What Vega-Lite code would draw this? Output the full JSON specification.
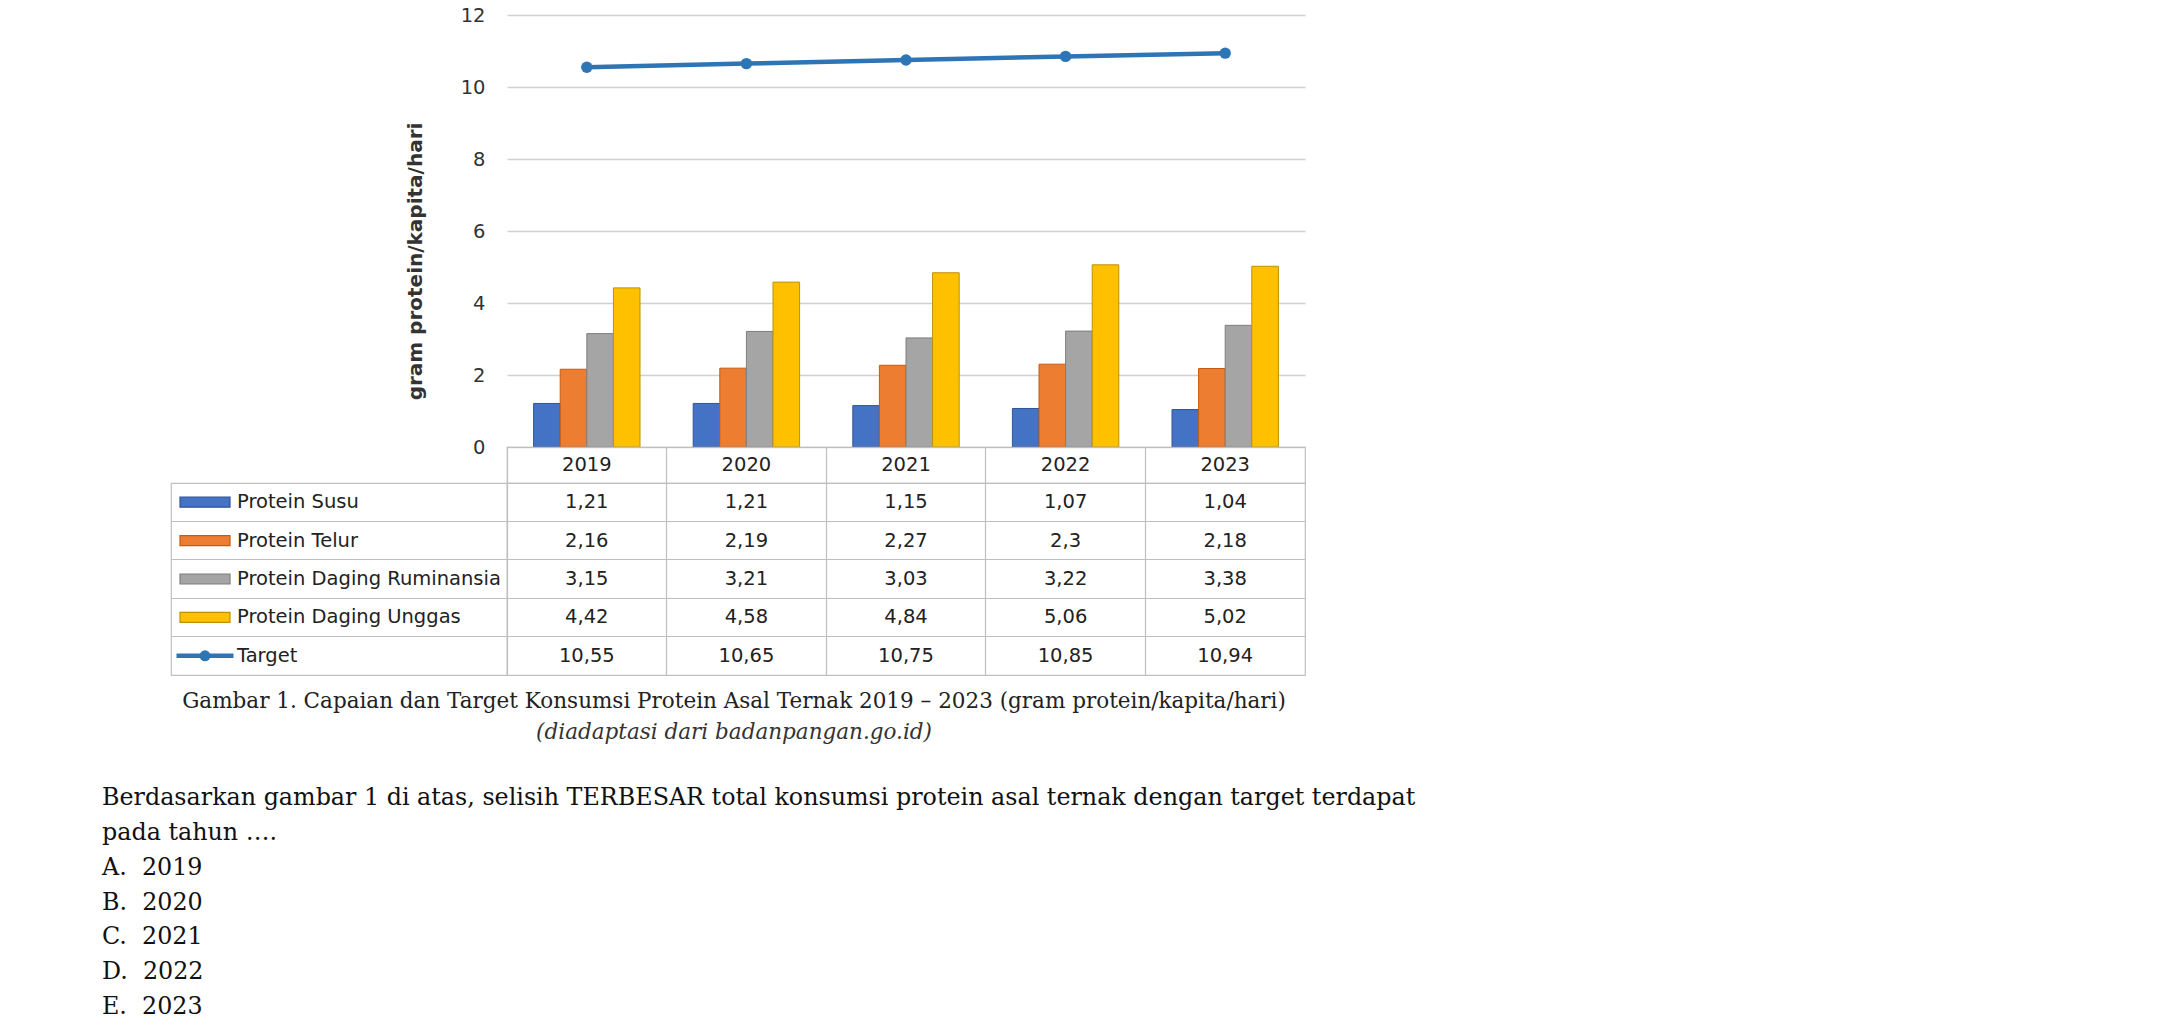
{
  "$schema": "https://vega.github.io/schema/vega-lite/v6.json",
  "background": "white",
  "padding": {"left": 102, "top": 5, "right": 10, "bottom": 0},
  "config": {
    "view": {"stroke": null},
    "font": "DejaVu Sans",
    "locale": {"number": {"decimal": ",", "thousands": ".", "grouping": [3], "currency": ["", ""]}}
  },
  "datasets": {
    "protein": [
      {"year": "2019", "series": "Protein Susu", "value": 1.21},
      {"year": "2020", "series": "Protein Susu", "value": 1.21},
      {"year": "2021", "series": "Protein Susu", "value": 1.15},
      {"year": "2022", "series": "Protein Susu", "value": 1.07},
      {"year": "2023", "series": "Protein Susu", "value": 1.04},
      {"year": "2019", "series": "Protein Telur", "value": 2.16},
      {"year": "2020", "series": "Protein Telur", "value": 2.19},
      {"year": "2021", "series": "Protein Telur", "value": 2.27},
      {"year": "2022", "series": "Protein Telur", "value": 2.3},
      {"year": "2023", "series": "Protein Telur", "value": 2.18},
      {"year": "2019", "series": "Protein Daging Ruminansia", "value": 3.15},
      {"year": "2020", "series": "Protein Daging Ruminansia", "value": 3.21},
      {"year": "2021", "series": "Protein Daging Ruminansia", "value": 3.03},
      {"year": "2022", "series": "Protein Daging Ruminansia", "value": 3.22},
      {"year": "2023", "series": "Protein Daging Ruminansia", "value": 3.38},
      {"year": "2019", "series": "Protein Daging Unggas", "value": 4.42},
      {"year": "2020", "series": "Protein Daging Unggas", "value": 4.58},
      {"year": "2021", "series": "Protein Daging Unggas", "value": 4.84},
      {"year": "2022", "series": "Protein Daging Unggas", "value": 5.06},
      {"year": "2023", "series": "Protein Daging Unggas", "value": 5.02},
      {"year": "2019", "series": "Target", "value": 10.55},
      {"year": "2020", "series": "Target", "value": 10.65},
      {"year": "2021", "series": "Target", "value": 10.75},
      {"year": "2022", "series": "Target", "value": 10.85},
      {"year": "2023", "series": "Target", "value": 10.94}
    ],
    "caption": [
      {"line": "1", "text": "Gambar 1. Capaian dan Target Konsumsi Protein Asal Ternak 2019 – 2023 (gram protein/kapita/hari)"},
      {"line": "2", "text": "(diadaptasi dari badanpangan.go.id)"}
    ],
    "question": [
      {"line": "1", "text": "Berdasarkan gambar 1 di atas, selisih TERBESAR total konsumsi protein asal ternak dengan target terdapat"},
      {"line": "2", "text": "pada tahun …."},
      {"line": "3", "text": "A.\u00a0\u00a02019"},
      {"line": "4", "text": "B.\u00a0\u00a02020"},
      {"line": "5", "text": "C.\u00a0\u00a02021"},
      {"line": "6", "text": "D.\u00a0\u00a02022"},
      {"line": "7", "text": "E.\u00a0\u00a02023"}
    ]
  },
  "columns": 3,
  "spacing": 0,
  "bounds": "flush",
  "concat": [
    {"width": 69, "height": 1, "data": {"values": []}, "mark": "point"},
    {"width": 1, "height": 1, "data": {"values": []}, "mark": "point"},
    {
      "width": 798,
      "height": 432,
      "data": {"name": "protein"},
      "layer": [
        {
          "transform": [{"filter": "datum.series != 'Target'"}],
          "mark": {"type": "bar", "strokeWidth": 1},
          "encoding": {
            "x": {"field": "year", "type": "nominal", "scale": {"type": "band", "paddingInner": 0, "paddingOuter": 0}, "axis": null},
            "xOffset": {"field": "series", "type": "nominal", "scale": {"domain": ["Protein Susu", "Protein Telur", "Protein Daging Ruminansia", "Protein Daging Unggas"], "paddingInner": 0, "paddingOuter": 1}},
            "y": {"field": "value", "type": "quantitative", "scale": {"domain": [0, 12]},
              "axis": {"values": [0, 2, 4, 6, 8, 10, 12], "title": "gram protein/kapita/hari", "grid": true, "gridColor": "#d0d0d0", "gridWidth": 1.5, "domain": false, "ticks": false, "labelPadding": 22, "labelFontSize": 19.5, "labelColor": "#333", "labelFlush": false, "titleFontSize": 20, "titleFontWeight": "bold", "titleColor": "#333", "titlePadding": 35, "titleY": 246}},
            "color": {"field": "series", "type": "nominal", "scale": {"domain": ["Protein Susu", "Protein Telur", "Protein Daging Ruminansia", "Protein Daging Unggas", "Target"], "range": ["#4472C4", "#ED7D31", "#A5A5A5", "#FFC000", "#2E75B6"]}, "legend": null},
            "stroke": {"field": "series", "type": "nominal", "scale": {"domain": ["Protein Susu", "Protein Telur", "Protein Daging Ruminansia", "Protein Daging Unggas"], "range": ["#2F5597", "#C55A11", "#7F7F7F", "#BF9000"]}, "legend": null}
          }
        },
        {
          "transform": [{"filter": "datum.series == 'Target'"}],
          "mark": {"type": "line", "color": "#2E75B6", "strokeWidth": 4.5, "point": {"filled": true, "size": 130, "color": "#2E75B6", "opacity": 1}},
          "encoding": {
            "x": {"field": "year", "type": "nominal"},
            "y": {"field": "value", "type": "quantitative"}
          }
        }
      ]
    },
    {"width": 69, "height": 1, "data": {"values": []}, "mark": "point"},
    {"width": 1, "height": 1, "data": {"values": []}, "mark": "point"},
    {
      "width": 798,
      "height": 36,
      "view": {"stroke": "#bfbfbf", "strokeWidth": 1.2},
      "data": {"name": "protein"},
      "transform": [{"filter": "datum.series == 'Target'"}],
      "mark": {"type": "text", "fontSize": 19.5, "color": "#222"},
      "encoding": {
        "x": {"field": "year", "type": "nominal", "scale": {"type": "band", "paddingInner": 0, "paddingOuter": 0},
          "axis": {"grid": true, "bandPosition": 0, "gridColor": "#bfbfbf", "gridWidth": 1.2, "labels": false, "ticks": false, "domain": false, "title": null}},
        "text": {"field": "year"}
      }
    },
    {"width": 69, "height": 1, "data": {"values": []}, "mark": "point"},
    {
      "width": 336,
      "height": 192,
      "view": {"stroke": "#bfbfbf", "strokeWidth": 1.2},
      "data": {"name": "protein"},
      "transform": [{"filter": "datum.year == '2019'"}],
      "encoding": {
        "y": {"field": "series", "type": "nominal",
          "scale": {"type": "band", "domain": ["Protein Susu", "Protein Telur", "Protein Daging Ruminansia", "Protein Daging Unggas", "Target"], "paddingInner": 0, "paddingOuter": 0},
          "axis": {"grid": true, "bandPosition": 0, "gridColor": "#bfbfbf", "gridWidth": 1.2, "labels": false, "ticks": false, "domain": false, "title": null}}
      },
      "layer": [
        {
          "transform": [{"filter": "datum.series != 'Target'"}],
          "mark": {"type": "point", "shape": "M-1,-0.2H1V0.2H-1Z", "size": 2500, "filled": true, "opacity": 1, "strokeWidth": 1.2},
          "encoding": {
            "x": {"datum": "symbol", "type": "nominal", "scale": {"type": "point", "domain": ["symbol"], "padding": 0, "align": 0.1012}, "axis": null},
            "color": {"field": "series", "type": "nominal", "scale": {"domain": ["Protein Susu", "Protein Telur", "Protein Daging Ruminansia", "Protein Daging Unggas", "Target"], "range": ["#4472C4", "#ED7D31", "#A5A5A5", "#FFC000", "#2E75B6"]}, "legend": null},
            "stroke": {"field": "series", "type": "nominal", "scale": {"domain": ["Protein Susu", "Protein Telur", "Protein Daging Ruminansia", "Protein Daging Unggas"], "range": ["#2F5597", "#C55A11", "#7F7F7F", "#BF9000"]}, "legend": null}
          }
        },
        {
          "transform": [{"filter": "datum.series == 'Target'"}],
          "mark": {"type": "point", "shape": "M-1,0H1", "size": 3249, "filled": false, "opacity": 1, "color": "#2E75B6", "strokeWidth": 4.5},
          "encoding": {
            "x": {"datum": "symbol", "type": "nominal", "scale": {"type": "point", "domain": ["symbol"], "padding": 0, "align": 0.1012}, "axis": null}
          }
        },
        {
          "transform": [{"filter": "datum.series == 'Target'"}],
          "mark": {"type": "point", "shape": "circle", "size": 120, "filled": true, "opacity": 1, "color": "#2E75B6"},
          "encoding": {
            "x": {"datum": "symbol", "type": "nominal", "scale": {"type": "point", "domain": ["symbol"], "padding": 0, "align": 0.1012}, "axis": null}
          }
        },
        {
          "mark": {"type": "text", "align": "left", "fontSize": 19.5, "color": "#222"},
          "encoding": {
            "x": {"datum": "label", "type": "nominal", "scale": {"type": "point", "domain": ["label"], "padding": 0, "align": 0.1964}, "axis": null},
            "text": {"field": "series"}
          }
        }
      ],
      "resolve": {"scale": {"x": "independent"}}
    },
    {
      "width": 798,
      "height": 192,
      "view": {"stroke": "#bfbfbf", "strokeWidth": 1.2},
      "data": {"name": "protein"},
      "mark": {"type": "text", "fontSize": 19.5, "color": "#222"},
      "encoding": {
        "x": {"field": "year", "type": "nominal", "scale": {"type": "band", "paddingInner": 0, "paddingOuter": 0},
          "axis": {"grid": true, "bandPosition": 0, "gridColor": "#bfbfbf", "gridWidth": 1.2, "labels": false, "ticks": false, "domain": false, "title": null}},
        "y": {"field": "series", "type": "nominal",
          "scale": {"type": "band", "domain": ["Protein Susu", "Protein Telur", "Protein Daging Ruminansia", "Protein Daging Unggas", "Target"], "paddingInner": 0, "paddingOuter": 0},
          "axis": {"grid": true, "bandPosition": 0, "gridColor": "#bfbfbf", "gridWidth": 1.2, "labels": false, "ticks": false, "domain": false, "title": null}},
        "text": {"field": "value", "type": "quantitative", "format": ".2~f"}
      }
    },
    {"width": 69, "height": 1, "data": {"values": []}, "mark": "point"},
    {"width": 1, "height": 1, "data": {"values": []}, "mark": "point"},
    {
      "width": 798,
      "height": 85,
      "data": {"name": "caption"},
      "encoding": {
        "x": {"datum": "caption", "type": "nominal", "scale": {"type": "point", "domain": ["caption"], "padding": 0, "align": 0.2845}, "axis": null},
        "y": {"field": "line", "type": "ordinal", "scale": {"type": "band", "domain": ["1", "2"], "paddingInner": 0, "paddingOuter": 0.37}, "axis": null}
      },
      "layer": [
        {
          "transform": [{"filter": "datum.line == '1'"}],
          "mark": {"type": "text", "font": "DejaVu Serif", "fontSize": 21.5, "color": "#222"},
          "encoding": {"text": {"field": "text"}}
        },
        {
          "transform": [{"filter": "datum.line == '2'"}],
          "mark": {"type": "text", "font": "DejaVu Serif", "fontSize": 21.5, "fontStyle": "italic", "color": "#333"},
          "encoding": {"text": {"field": "text"}}
        }
      ]
    },
    {
      "width": 69,
      "height": 285,
      "data": {"name": "question"},
      "mark": {"type": "text", "font": "DejaVu Serif", "fontSize": 23.8, "align": "left", "color": "#111"},
      "encoding": {
        "x": {"datum": "q", "type": "nominal", "scale": {"type": "point", "domain": ["q"], "padding": 0, "align": 0}, "axis": null},
        "y": {"field": "line", "type": "ordinal", "scale": {"type": "band", "paddingInner": 0, "paddingOuter": 0.6}, "axis": null},
        "text": {"field": "text"}
      }
    },
    {"width": 1, "height": 1, "data": {"values": []}, "mark": "point"},
    {"width": 1, "height": 1, "data": {"values": []}, "mark": "point"}
  ]
}
